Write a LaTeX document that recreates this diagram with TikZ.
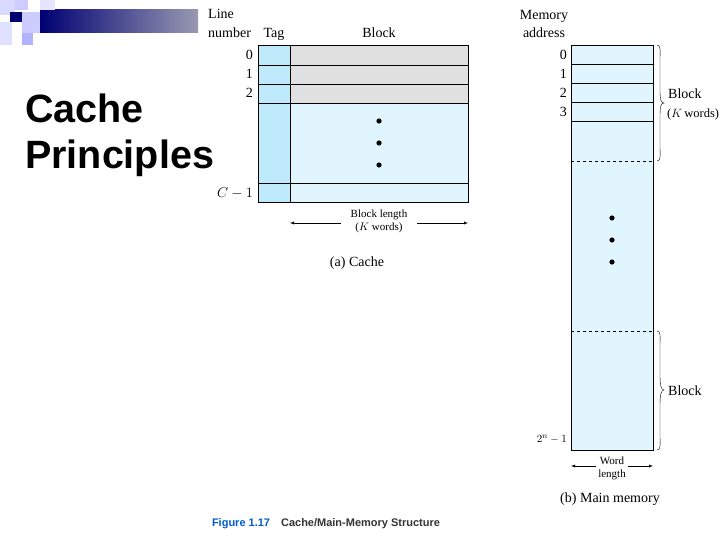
\documentclass[tikz,border=0pt]{standalone}
\usepackage{fontspec}
\setmainfont{Liberation Serif}
\newfontfamily\arial{Liberation Sans}
\begin{document}
\begin{tikzpicture}[x=1pt,y=-1pt,
  cellc/.style={draw=black,line width=0.5pt},
  lbl/.style={font=\fontsize{14}{15}\selectfont,inner sep=0pt},
  sm/.style={font=\fontsize{11}{13}\selectfont,inner sep=0pt,align=center},
  arr/.style={-latex,line width=0.4pt}]
\useasboundingbox (0,0) rectangle (720,540);
% decoration
\fill[left color=blue!45!black, right color=blue!25!black!40!white] (40,10) rectangle (198,33);
\fill[blue!15!white] (0,0) rectangle (15,15);
\fill[blue!20!white] (15,0) rectangle (28,10);
\fill[blue!45!black] (10,12) rectangle (22,22);
\fill[blue!20!white] (22,12) rectangle (40,33);
\fill[blue!12!white] (0,22) rectangle (12,45);
\fill[blue!30!white] (22,33) rectangle (33,45);
\fill[blue!10!white] (40,0) rectangle (55,10);
\node[font=\arial\bfseries\fontsize{39.5}{46}\selectfont,align=left,anchor=north west,inner sep=0pt] (title) at (25,94) {Cache\\Principles};
% cache
\fill[cyan!25!white] (258,45) rectangle (290,202);
\fill[black!12] (290,45) rectangle (468,103);
\fill[cyan!12!white] (290,103) rectangle (468,202);
\draw[cellc] (258,45) rectangle (468,202);
\draw[cellc] (290,45) -- (290,202);
\foreach \y in {65,84,103,183} \draw[cellc] (258,\y) -- (468,\y);
\node[lbl,anchor=base west] (ln) at (208,19) {Line};
\node[lbl,anchor=base west] (ln2) at (208,38) {number};
\node[lbl,anchor=base] (tag) at (274,38) {Tag};
\node[lbl,anchor=base] (blk) at (379,38) {Block};
\foreach \t/\y in {0/60,1/79,2/98} \node[lbl,anchor=base east] (c\t) at (253,\y) {\t};
\node[lbl,anchor=base east] (cc) at (253,197) {$C-1$};
\foreach \y in {121,143,165} \fill[black] (379,\y) circle (2.6pt);
\coordinate (al) at (290,223); \coordinate (ar) at (468,223);
\node[sm] (bl) at (379,221) {Block length\\($K$ words)};
\draw[arr] (bl.west) ++(-10,2) -- (al);
\draw[arr] (bl.east) ++(10,2) -- (ar);
\node[lbl] (ca) at (357,263) {(a) Cache};
% memory
\fill[cyan!12!white] (571,45) rectangle (653,450);
\draw[cellc] (571,45) rectangle (653,450);
\foreach \y in {64,83,102,121} \draw[cellc] (571,\y) -- (653,\y);
\draw[cellc,dashed] (571,161) -- (653,161);
\draw[cellc,dashed] (571,331) -- (653,331);
\foreach \t/\y in {0/60,1/79,2/98,3/117} \node[lbl,anchor=base east] (m\t) at (567,\y) {\t};
\node[sm,anchor=base east] (mn) at (567,442) {$2^n-1$};
\node[lbl,align=center,font=\fontsize{14}{18}\selectfont] (ma) at (544,24) {Memory\\address};
\foreach \y in {218,240,262} \fill[black] (612,\y) circle (2.6pt);
\draw[line width=0.4pt] (657,45) .. controls (661,45) and (660,50) .. (660,60) -- (660,90) .. controls (660,100) and (661,103) .. (664,103) .. controls (661,103) and (660,106) .. (660,116) -- (660,146) .. controls (660,156) and (661,161) .. (657,161);
\draw[line width=0.4pt] (657,331) .. controls (661,331) and (660,336) .. (660,346) -- (660,375) .. controls (660,385) and (661,390) .. (664,390) .. controls (661,390) and (660,395) .. (660,405) -- (660,435) .. controls (660,445) and (661,450) .. (657,450);
\node[lbl,anchor=base west] (b1) at (668,99) {Block};
\node[lbl,anchor=base west,font=\fontsize{12.5}{14}\selectfont] (b1b) at (667,118) {($K$\,words)};
\node[lbl,anchor=base west] (b2) at (668,395) {Block};
\node[sm] (wl) at (612,468) {Word\\length};
\coordinate (wl1) at (571,466); \coordinate (wl2) at (653,466);
\draw[arr] (wl.west) ++(-2,-2) -- (wl1);
\draw[arr] (wl.east) ++(2,-2) -- (wl2);
\node[lbl] (mm) at (610,499) {(b) Main memory};
\node[font=\arial\bfseries\fontsize{11}{12}\selectfont,text=blue!55!cyan!80!black] (fig) at (326,524) {Figure 1.17\quad \textcolor{black!80}{Cache/Main-Memory Structure}};
\end{tikzpicture}
\end{document}
